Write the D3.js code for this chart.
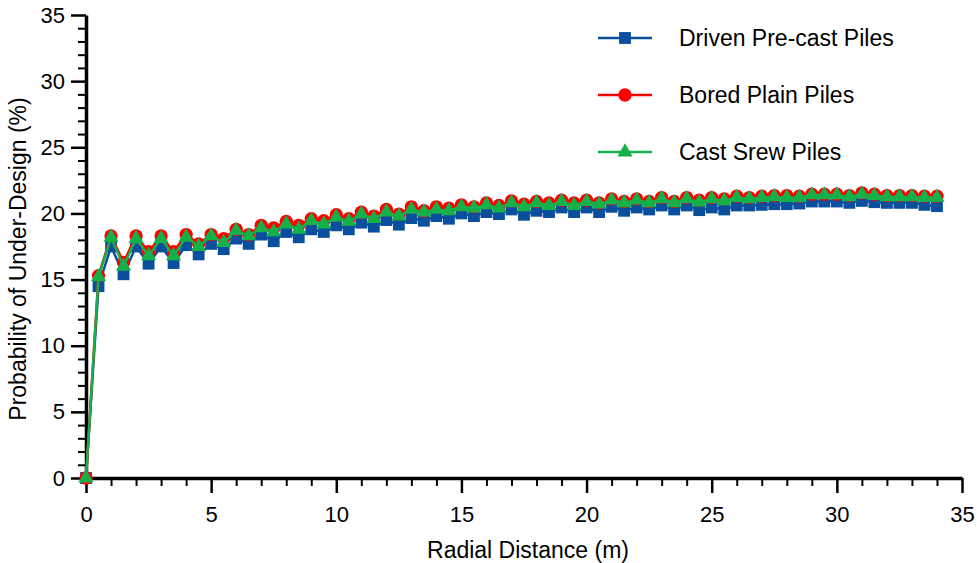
<!DOCTYPE html>
<html>
<head>
<meta charset="utf-8">
<script src="https://cdn.jsdelivr.net/npm/d3@7"></script>
<style>
  body { margin: 0; background: #fff; }
  svg { display: block; font-family: "Liberation Sans", Arial, sans-serif; }
</style>
</head>
<body>
<svg id="chart"></svg>
<script>
const radialDistance = [0, 0.5, 1, 1.5, 2, 2.5, 3, 3.5, 4, 4.5, 5, 5.5, 6, 6.5, 7, 7.5, 8, 8.5, 9, 9.5,
  10, 10.5, 11, 11.5, 12, 12.5, 13, 13.5, 14, 14.5, 15, 15.5, 16, 16.5, 17, 17.5, 18, 18.5, 19, 19.5,
  20, 20.5, 21, 21.5, 22, 22.5, 23, 23.5, 24, 24.5, 25, 25.5, 26, 26.5, 27, 27.5, 28, 28.5, 29, 29.5,
  30, 30.5, 31, 31.5, 32, 32.5, 33, 33.5, 34];

const drivenPrecast = [0, 14.5, 17.5, 15.4, 17.5, 16.2, 17.5, 16.25, 17.6, 16.9, 17.7, 17.3, 18.1, 17.7, 18.4, 17.9, 18.6, 18.2, 18.8, 18.6,
  19.1, 18.8, 19.3, 19.0, 19.5, 19.15, 19.65, 19.45, 19.8, 19.6, 20.0, 19.8, 20.1, 19.95, 20.3, 19.9, 20.2, 20.1, 20.45, 20.1,
  20.45, 20.1, 20.5, 20.2, 20.45, 20.3, 20.6, 20.3, 20.6, 20.25, 20.45, 20.3, 20.6, 20.6, 20.65, 20.7, 20.7, 20.75, 20.9, 20.9,
  20.9, 20.8, 20.95, 20.85, 20.8, 20.8, 20.8, 20.65, 20.55];

const boredPlain = [0, 15.3, 18.3, 16.3, 18.3, 17.1, 18.3, 17.1, 18.4, 17.7, 18.4, 18.1, 18.8, 18.4, 19.1, 18.9, 19.4, 19.1, 19.6, 19.45,
  19.9, 19.6, 20.1, 19.8, 20.3, 19.95, 20.5, 20.2, 20.5, 20.4, 20.65, 20.5, 20.8, 20.6, 20.95, 20.7, 20.9, 20.8, 21.0, 20.8,
  21.0, 20.8, 21.1, 20.9, 21.1, 20.9, 21.2, 20.9, 21.2, 21.0, 21.2, 21.1, 21.3, 21.2, 21.3, 21.35, 21.35, 21.3, 21.45, 21.45,
  21.45, 21.35, 21.55, 21.45, 21.35, 21.35, 21.35, 21.3, 21.3];

const castScrew = [0, 15.2, 18.2, 16.0, 18.1, 16.8, 18.1, 16.8, 18.2, 17.5, 18.3, 17.8, 18.7, 18.3, 18.9, 18.6, 19.2, 18.8, 19.45, 19.2,
  19.7, 19.4, 19.95, 19.6, 20.1, 19.8, 20.3, 20.1, 20.3, 20.2, 20.5, 20.4, 20.65, 20.4, 20.8, 20.5, 20.8, 20.6, 20.9, 20.6,
  20.9, 20.7, 21.0, 20.8, 21.0, 20.8, 21.1, 20.8, 21.1, 20.85, 21.1, 20.95, 21.2, 21.1, 21.2, 21.25, 21.2, 21.2, 21.4, 21.4,
  21.4, 21.25, 21.45, 21.35, 21.25, 21.25, 21.25, 21.2, 21.2];

const seriesNames = ["Driven Pre-cast Piles", "Bored Plain Piles", "Cast Srew Piles"];
const xTicks = [0, 5, 10, 15, 20, 25, 30, 35];
const yTicks = [0, 5, 10, 15, 20, 25, 30, 35];

const width = 977;
const height = 563;
const marginLeft = 86;
const marginRight = 15;
const marginTop = 15;
const marginBottom = 85;

const svg = d3.select("#chart")
  .attr("width", width)
  .attr("height", height)
  .attr("viewBox", [0, 0, width, height]);

const x = d3.scaleLinear().domain([0, 35]).range([marginLeft, width - marginRight]);
const y = d3.scaleLinear().domain([0, 35]).range([height - marginBottom, marginTop]);

const minor = d3.range(0, 36, 1).filter((d) => d % 5 !== 0);

// minor ticks
svg.append("g")
  .attr("transform", `translate(0,${y(0)})`)
  .call(d3.axisBottom(x).tickValues(minor).tickSize(8).tickFormat(""))
  .call((g) => g.select(".domain").remove())
  .call((g) => g.selectAll("line").attr("stroke", "#000").attr("stroke-width", 2));

svg.append("g")
  .attr("transform", `translate(${x(0)},0)`)
  .call(d3.axisLeft(y).tickValues(minor).tickSize(8).tickFormat(""))
  .call((g) => g.select(".domain").remove())
  .call((g) => g.selectAll("line").attr("stroke", "#000").attr("stroke-width", 2));

// major ticks + labels
svg.append("g")
  .attr("transform", `translate(0,${y(0)})`)
  .call(d3.axisBottom(x).tickValues(xTicks).tickSize(15).tickPadding(13).tickSizeOuter(0))
  .call((g) => g.select(".domain").attr("stroke-width", 3.5))
  .call((g) => g.selectAll(".tick line").attr("stroke-width", 2.5))
  .call((g) => g.selectAll("text").attr("font-size", 22).attr("font-family", "Liberation Sans, Arial, sans-serif").attr("fill", "#000"));

svg.append("g")
  .attr("transform", `translate(${x(0)},0)`)
  .call(d3.axisLeft(y).tickValues(yTicks).tickSize(15).tickPadding(6).tickSizeOuter(0))
  .call((g) => g.select(".domain").attr("stroke-width", 3.5))
  .call((g) => g.selectAll(".tick line").attr("stroke-width", 2.5))
  .call((g) => g.selectAll("text").attr("font-size", 22).attr("font-family", "Liberation Sans, Arial, sans-serif").attr("fill", "#000"));

// axis titles
svg.append("text")
  .attr("x", 528)
  .attr("y", 558)
  .attr("text-anchor", "middle")
  .attr("font-size", 23)
  .text("Radial Distance (m)");

svg.append("text")
  .attr("transform", `translate(26,259) rotate(-90)`)
  .attr("text-anchor", "middle")
  .attr("font-size", 23)
  .text("Probability of Under-Design (%)");

const series = [
  { name: seriesNames[0], values: drivenPrecast, color: "#0a4f9d", symbol: d3.symbolSquare, size: 140 },
  { name: seriesNames[1], values: boredPlain, color: "#ff0000", symbol: d3.symbolCircle, size: 140 },
  { name: seriesNames[2], values: castScrew, color: "#14b04a", symbol: d3.symbolTriangle, size: 100 }
];

const line = d3.line()
  .x((d) => x(d[0]))
  .y((d) => y(d[1]));

series.forEach((s) => {
  const pts = radialDistance.map((d, i) => [d, s.values[i]]);
  const g = svg.append("g");
  g.append("path")
    .datum(pts)
    .attr("fill", "none")
    .attr("stroke", s.color)
    .attr("stroke-width", 2.5)
    .attr("d", line);
  g.selectAll("path.m")
    .data(pts)
    .join("path")
    .attr("class", "m")
    .attr("transform", (d) => `translate(${x(d[0])},${y(d[1])})`)
    .attr("fill", s.color)
    .attr("d", d3.symbol(s.symbol, s.size));
});

// Legend
const legend = svg.append("g")
  .selectAll("g")
  .data(series)
  .join("g")
  .attr("transform", (d, i) => `translate(598,${38 + i * 57})`);

legend.append("line")
  .attr("x1", 0).attr("x2", 54)
  .attr("stroke", (d) => d.color)
  .attr("stroke-width", 2.5);

legend.append("path")
  .attr("transform", "translate(27,0)")
  .attr("fill", (d) => d.color)
  .attr("d", (d) => d3.symbol(d.symbol, d.size)());

legend.append("text")
  .attr("x", 81)
  .attr("dy", "0.35em")
  .attr("font-size", 23)
  .text((d) => d.name);
</script>
</body>
</html>
